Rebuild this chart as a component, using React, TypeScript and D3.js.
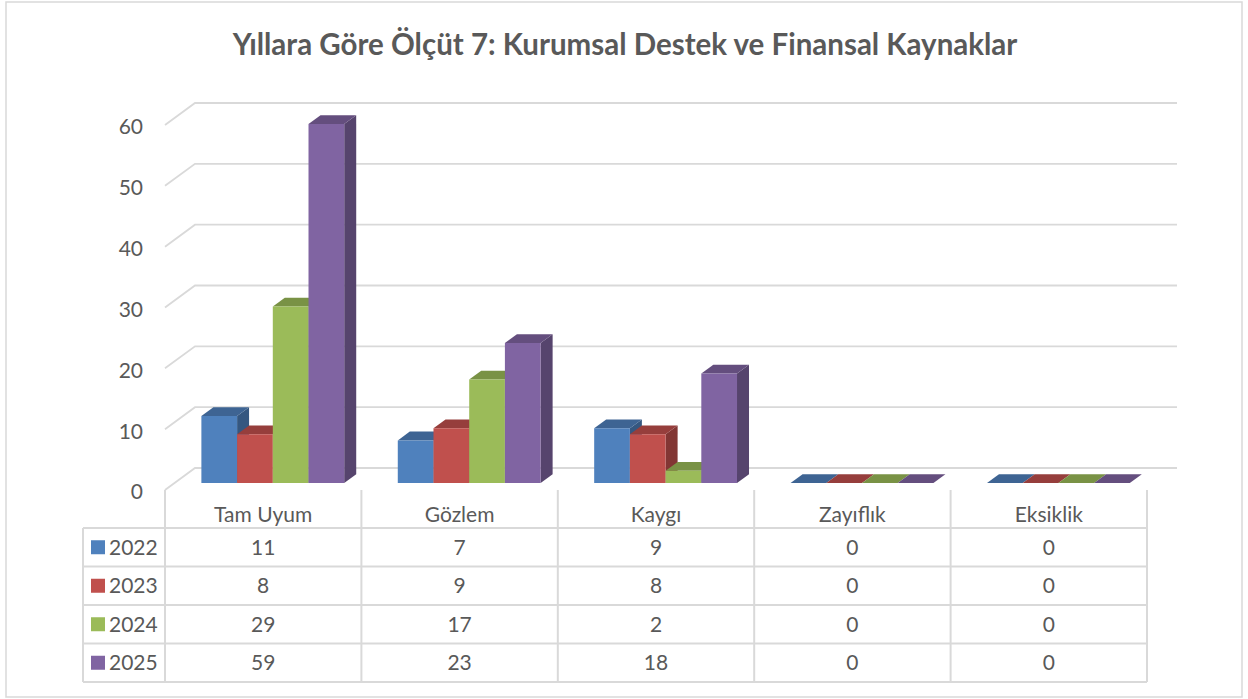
import React, { useEffect } from "react";
import * as d3 from "d3";

const title = "Yıllara Göre Ölçüt 7: Kurumsal Destek ve Finansal Kaynaklar";
const categories = ["Tam Uyum", "Gözlem", "Kaygı", "Zayıflık", "Eksiklik"];
const years = ["2022", "2023", "2024", "2025"];
const values2022 = [11, 7, 9, 0, 0];
const values2023 = [8, 9, 8, 0, 0];
const values2024 = [29, 17, 2, 0, 0];
const values2025 = [59, 23, 18, 0, 0];
const seriesValues = [values2022, values2023, values2024, values2025];
const seriesColors = ["#4F81BD", "#C0504D", "#9BBB59", "#8064A2"];
const yTicks = [0, 10, 20, 30, 40, 50, 60];

const W = 1248;
const H = 699;
const FONT = "Lato, 'Open Sans', sans-serif";
const TEXT = "#595959";
const GRID = "#d9d9d9";
const FS = 21;

export default function App() {
  useEffect(() => {
    document.body.style.margin = "0";
  }, []);

  const plotLeft = 165;
  const plotRight = 1147;
  const DX = 30;
  const DY = -22;
  const zFront = 0.32;
  const zBack = 0.72;

  const y = d3.scaleLinear().domain([0, 60]).range([490, 125]);
  const x = d3.scaleBand<string>().domain(categories).range([plotLeft, plotRight]);
  const inner = d3
    .scaleBand<string>()
    .domain(years)
    .range([0, x.bandwidth()])
    .paddingInner(0)
    .paddingOuter(0.75);

  const proj = (px: number, v: number, z: number): [number, number] => [px + DX * z, y(v) + DY * z];
  const poly = (pts: [number, number][]) => pts.map((p) => p.join(",")).join(" ");

  // table geometry
  const tableLeft = 83;
  const headerTop = 490;
  const rowLines = [528, 566.5, 605, 643.5, 682];
  const colEdges = [plotLeft, ...categories.map((c) => (x(c) as number) + x.bandwidth())];

  const bars: JSX.Element[] = [];
  categories.forEach((cat, ci) => {
    years.forEach((yr, si) => {
      const v = seriesValues[si][ci];
      const x0 = (x(cat) as number) + (inner(yr) as number);
      const x1 = x0 + inner.bandwidth();
      const base = d3.color(seriesColors[si])!;
      const topCol = base.darker(0.7).formatHex();
      const sideCol = base.darker(1.1).formatHex();
      const front = [proj(x0, 0, zFront), proj(x1, 0, zFront), proj(x1, v, zFront), proj(x0, v, zFront)] as [number, number][];
      const side = [proj(x1, 0, zFront), proj(x1, 0, zBack), proj(x1, v, zBack), proj(x1, v, zFront)] as [number, number][];
      const top = [proj(x0, v, zFront), proj(x1, v, zFront), proj(x1, v, zBack), proj(x0, v, zBack)] as [number, number][];
      bars.push(
        <g key={`${ci}-${si}`}>
          {v > 0 && <polygon points={poly(side)} fill={sideCol} />}
          <polygon points={poly(top)} fill={topCol} />
          {v > 0 && <polygon points={poly(front)} fill={seriesColors[si]} />}
        </g>
      );
    });
  });

  return (
    <svg width={W} height={H} style={{ display: "block" }} fontFamily={FONT}>
      <rect x={0} y={0} width={W} height={H} fill="#fff" />
      <rect x={6} y={2} width={1236} height={695} fill="none" stroke={GRID} strokeWidth={1.5} />
      <text x={625} y={55} textAnchor="middle" fontSize={29.5} fontWeight="bold" fill={TEXT}>
        {title}
      </text>

      {/* gridlines: left wall + back wall */}
      {yTicks.map((t) => {
        const [fx, fy] = proj(plotLeft, t, 0);
        const [bx, by] = proj(plotLeft, t, 1);
        const [ex] = proj(plotRight, t, 1);
        return (
          <g key={t}>
            <polyline
              points={poly([[fx, fy], [bx, by], [ex, by]])}
              fill="none"
              stroke={GRID}
              strokeWidth={1.8}
            />
            <text x={143} y={fy + 2} dy="0.35em" textAnchor="end" fontSize={FS} fill={TEXT}>
              {t}
            </text>
          </g>
        );
      })}

      {bars}

      {/* data table */}
      <g stroke={GRID} strokeWidth={2} fill="none">
        {colEdges.map((cx, i) => (
          <line key={`v${i}`} x1={cx} x2={cx} y1={headerTop} y2={rowLines[rowLines.length - 1]} />
        ))}
        <line x1={tableLeft} x2={tableLeft} y1={rowLines[0]} y2={rowLines[rowLines.length - 1]} />
        {rowLines.map((ry, i) => (
          <line key={`h${i}`} x1={tableLeft} x2={plotRight} y1={ry} y2={ry} />
        ))}
      </g>
      {categories.map((cat) => (
        <text
          key={cat}
          x={(x(cat) as number) + x.bandwidth() / 2}
          y={521.5}
          textAnchor="middle"
          fontSize={FS}
          fill={TEXT}
        >
          {cat}
        </text>
      ))}
      {years.map((yr, si) => {
        const cy = (rowLines[si] + rowLines[si + 1]) / 2;
        return (
          <g key={yr}>
            <rect x={91} y={cy - 7} width={14} height={14} fill={seriesColors[si]} />
            <text x={109} y={cy + 7.5} fontSize={FS} fill={TEXT}>
              {yr}
            </text>
            {categories.map((cat, ci) => (
              <text
                key={cat}
                x={(x(cat) as number) + x.bandwidth() / 2}
                y={cy + 7.5}
                textAnchor="middle"
                fontSize={FS}
                fill={TEXT}
              >
                {seriesValues[si][ci]}
              </text>
            ))}
          </g>
        );
      })}
    </svg>
  );
}
